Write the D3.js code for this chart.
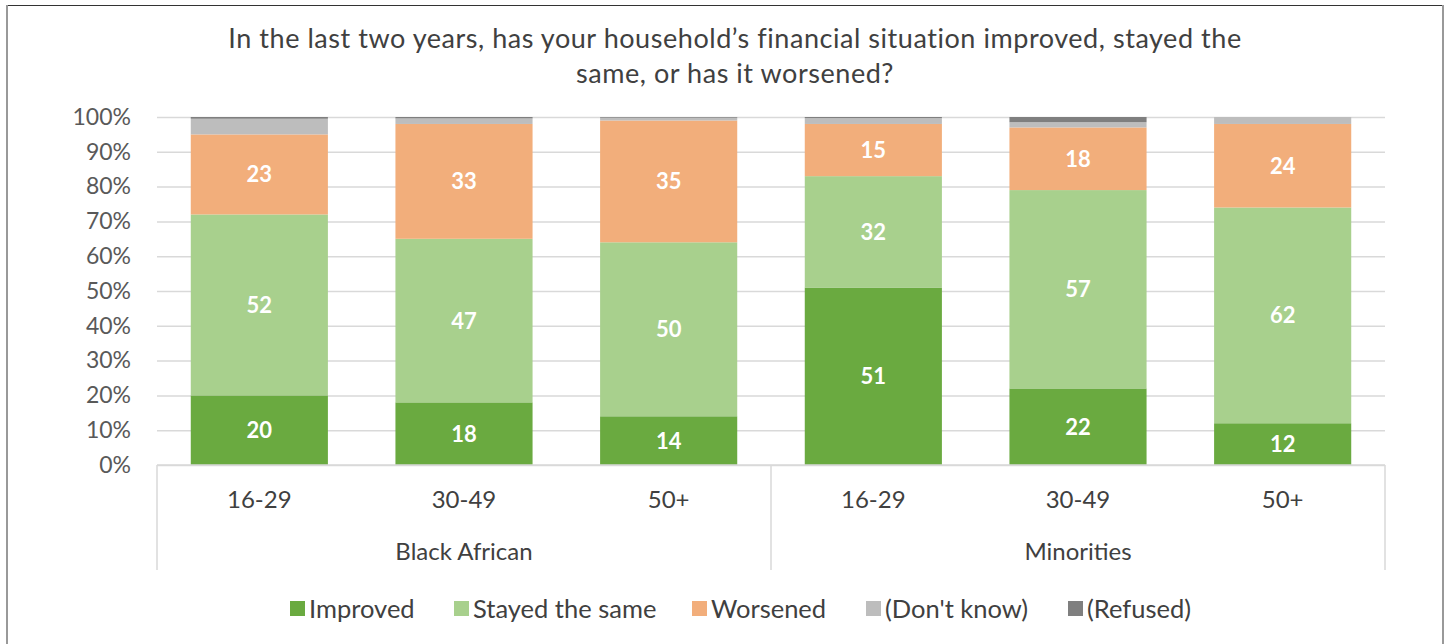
<!DOCTYPE html>
<html>
<head>
<meta charset="utf-8">
<script src="https://cdn.jsdelivr.net/npm/d3@7"></script>
<style>
  body { margin: 0; background: #fff; }
  svg text { font-family: Lato, "Open Sans", sans-serif; }
</style>
</head>
<body>
<svg id="chart"></svg>
<script>
// data
var groups = ["Black African", "Minorities"]
var ages = ["16-29", "30-49", "50+"]
var series = ["Improved", "Stayed the same", "Worsened", "(Don't know)", "(Refused)"]

var improved = [20, 18, 14, 51, 22, 12]
var stayed   = [52, 47, 50, 32, 57, 62]
var worsened = [23, 33, 35, 15, 18, 24]
var dontKnow = [4.5, 1.6, 0.8, 1.7, 1.5, 2]
var refused  = [0.5, 0.4, 0.2, 0.3, 1.5, 0]

var yTicks = [0, 10, 20, 30, 40, 50, 60, 70, 80, 90, 100]
var colors = ["#6aaa40", "#a8d08d", "#f2ae7b", "#bdbdbd", "#7f7f7f"]

// MAIN
var width = 1451, height = 644
var svg = d3.select("#chart").attr("width", width).attr("height", height)

var rows = []
groups.forEach(function (g, gi) {
    ages.forEach(function (a, ai) {
        var i = gi * ages.length + ai
        rows.push({
            key: g + "|" + a, group: g, age: a,
            "Improved": improved[i], "Stayed the same": stayed[i], "Worsened": worsened[i],
            "(Don't know)": dontKnow[i], "(Refused)": refused[i]
        })
    })
})

var x0 = 157, x1 = 1385
var x = d3.scaleBand().domain(rows.map(function (d) { return d.key }))
    .range([x0, x1]).paddingInner(0.33).paddingOuter(0.165)
var y = d3.scaleLinear().domain([0, 100]).range([465, 117])
var color = d3.scaleOrdinal().domain(series).range(colors)

// frame
svg.append("line").attr("x1", 7).attr("x2", 1443).attr("y1", 5.5).attr("y2", 5.5)
    .attr("stroke", "#333").attr("stroke-width", 1.2)
svg.append("line").attr("x1", 7).attr("x2", 7).attr("y1", 5).attr("y2", 644)
    .attr("stroke", "#999").attr("stroke-width", 2)
svg.append("line").attr("x1", 1443).attr("x2", 1443).attr("y1", 5).attr("y2", 644)
    .attr("stroke", "#999").attr("stroke-width", 2)

// title
var title = svg.append("text").attr("text-anchor", "middle").attr("fill", "#404040")
    .attr("font-size", 27).attr("letter-spacing", 0.55)
title.append("tspan").attr("x", 735).attr("y", 48)
    .text("In the last two years, has your household\u2019s financial situation improved, stayed the")
title.append("tspan").attr("x", 735).attr("y", 83)
    .text("same, or has it worsened?")

// gridlines + y axis
var yAxis = d3.axisLeft(y).tickValues(yTicks).tickSize(-(x1 - x0))
    .tickFormat(function (d) { return d + "%" })
var gy = svg.append("g").attr("transform", "translate(" + x0 + ",0)").call(yAxis)
gy.select(".domain").remove()
gy.selectAll(".tick line").attr("stroke", "#d9d9d9").attr("stroke-width", 1.5)
gy.selectAll(".tick text").attr("x", -26).attr("fill", "#595959")
    .attr("font-size", 23).attr("font-family", "Lato, sans-serif")

// stacked bars
var stack = d3.stack().keys(series)
var layers = stack(rows)

var layer = svg.append("g").selectAll("g").data(layers).enter().append("g")
    .attr("fill", function (d) { return color(d.key) })

layer.selectAll("rect").data(function (d) { return d }).enter().append("rect")
    .attr("x", function (d) { return x(d.data.key) })
    .attr("width", x.bandwidth())
    .attr("y", function (d) { return y(d[1]) })
    .attr("height", function (d) { return y(d[0]) - y(d[1]) })

// value labels (first three series only)
layers.slice(0, 3).forEach(function (l) {
    svg.append("g").selectAll("text").data(l).enter().append("text")
        .attr("x", function (d) { return x(d.data.key) + x.bandwidth() / 2 })
        .attr("y", function (d) { return (y(d[0]) + y(d[1])) / 2 })
        .attr("dy", "0.36em")
        .attr("text-anchor", "middle")
        .attr("fill", "#fff").attr("font-weight", "bold").attr("font-size", 22)
        .text(function (d) { return d.data[l.key] })
})

// category axis
svg.append("line").attr("x1", x0).attr("x2", x1).attr("y1", 465).attr("y2", 465)
    .attr("stroke", "#d9d9d9").attr("stroke-width", 1.5)
;[x0, (x0 + x1) / 2, x1].forEach(function (px) {
    svg.append("line").attr("x1", px).attr("x2", px).attr("y1", 465).attr("y2", 570)
        .attr("stroke", "#d9d9d9").attr("stroke-width", 1.5)
})

svg.append("g").selectAll("text").data(rows).enter().append("text")
    .attr("x", function (d) { return x(d.key) + x.bandwidth() / 2 })
    .attr("y", 508)
    .attr("text-anchor", "middle").attr("fill", "#404040").attr("font-size", 24)
    .text(function (d) { return d.age })

svg.append("g").selectAll("text").data(groups).enter().append("text")
    .attr("x", function (g) {
        var ks = rows.filter(function (r) { return r.group === g })
        return (x(ks[0].key) + x(ks[ks.length - 1].key) + x.bandwidth()) / 2
    })
    .attr("y", 560)
    .attr("text-anchor", "middle").attr("fill", "#404040").attr("font-size", 24)
    .text(function (g) { return g })

// legend
var legendX = [290, 454, 692, 866, 1068]
var legend = svg.append("g").selectAll("g").data(series).enter().append("g")
    .attr("transform", function (d, i) { return "translate(" + legendX[i] + ",601)" })
legend.append("rect").attr("width", 15).attr("height", 15).attr("y", 0)
    .attr("fill", function (d) { return color(d) })
legend.append("text").attr("x", 19).attr("y", 17).attr("fill", "#404040")
    .attr("font-size", 25.5).text(function (d) { return d })
</script>
</body>
</html>
